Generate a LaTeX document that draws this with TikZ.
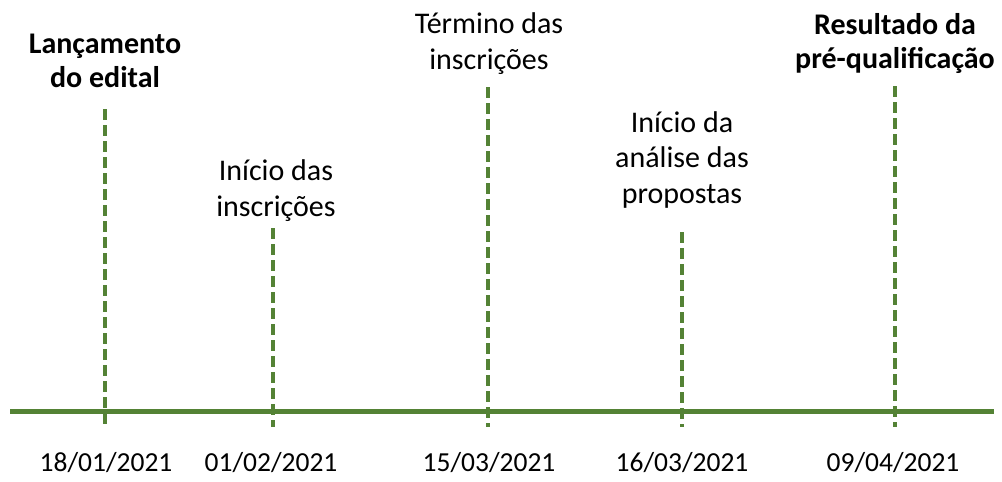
\documentclass[tikz,border=0pt]{standalone}
\usepackage{fontspec}
\setmainfont{Carlito}
\definecolor{tlgreen}{RGB}{84,130,53}
\begin{document}
\begin{tikzpicture}[x=1pt,y=-1pt,
  axisline/.style={draw=tlgreen,line width=4.5pt},
  mark line/.style={draw=tlgreen,line width=3.5pt,dash pattern=on 11pt off 5pt},
  lbl/.style={anchor=base,align=center,inner sep=0pt,font=\fontsize{30}{35.5}\selectfont},
  blbl/.style={lbl,font=\fontsize{30}{34}\selectfont\bfseries},
  datelbl/.style={anchor=base,inner sep=0pt,font=\fontsize{27.5}{33}\selectfont}]
\useasboundingbox (0,0) rectangle (1002,482);
% axis
\coordinate (a0) at (10,411.5);
\coordinate (a1) at (994,411.5);
\draw[axisline] (a0) -- (a1);
% event lines
\coordinate (t1) at (105,109); \coordinate (b1) at (105,427);
\coordinate (t2) at (273,228); \coordinate (b2) at (273,427);
\coordinate (t3) at (488,87);  \coordinate (b3) at (488,427);
\coordinate (t4) at (682,232); \coordinate (b4) at (682,427);
\coordinate (t5) at (895,86);  \coordinate (b5) at (895,427);
\foreach \i in {1,...,5} \draw[mark line] (t\i) -- (b\i);
% labels (anchored at the baseline of their last line)
\node[blbl] (l1) at (105,87) {Lançamento\\do edital};
\node[lbl] (l2) at (276,216) {Início das\\inscrições};
\node[lbl] (l3) at (489,69) {Término das\\inscrições};
\node[lbl] (l4) at (682,203) {Início da\\análise das\\propostas};
\node[blbl] (l5) at (895,68) {Resultado da\\pré-qualificação};
% dates
\node[datelbl] (d1) at (106,471) {18/01/2021};
\node[datelbl] (d2) at (271,471) {01/02/2021};
\node[datelbl] (d3) at (489,471) {15/03/2021};
\node[datelbl] (d4) at (682,471) {16/03/2021};
\node[datelbl] (d5) at (893,471) {09/04/2021};
\end{tikzpicture}
\end{document}
